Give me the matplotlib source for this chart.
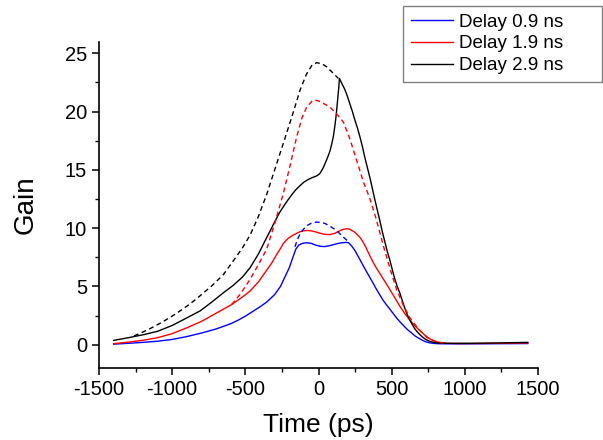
import numpy as np
import matplotlib.pyplot as plt

plt.rcParams['font.family'] = ['Liberation Sans', 'DejaVu Sans']
plt.rcParams['axes.unicode_minus'] = False

# Delay 0.9 ns (blue)
t_blue = [-1400, -1300, -1200, -1100, -1000, -900, -800, -700, -600, -550, -500, -450,
          -400, -350, -300, -260, -230, -200, -175, -155, -135, -110, -80, -50, -20, 10,
          40, 70, 100, 130, 160, 190, 205, 225, 248, 270, 296, 320, 345, 370, 394, 418,
          442, 466, 491, 515, 540, 565, 588, 612, 637, 660, 686, 710, 734, 760, 783, 810,
          850, 950, 1100, 1250, 1430]
g_blue = [0.05, 0.12, 0.2, 0.3, 0.45, 0.7, 1.0, 1.35, 1.8, 2.1, 2.45, 2.85,
          3.25, 3.7, 4.3, 5.0, 5.8, 6.6, 7.5, 8.2, 8.55, 8.7, 8.75, 8.7, 8.55, 8.45,
          8.42, 8.48, 8.58, 8.68, 8.75, 8.78, 8.75, 8.5, 8.1, 7.6, 7.0, 6.45, 5.9, 5.35, 4.8, 4.3,
          3.8, 3.4, 3.0, 2.6, 2.2, 1.85, 1.55, 1.25, 1.0, 0.75, 0.55, 0.38, 0.25, 0.16, 0.12, 0.09,
          0.08, 0.07, 0.08, 0.09, 0.1]
t_blue_d = [-161, -145, -125, -100, -75, -45, -15, 15, 45, 75, 105, 135, 165, 190, 214]
g_blue_d = [8.4, 9.0, 9.55, 9.95, 10.25, 10.45, 10.52, 10.5, 10.4, 10.2, 9.95, 9.65, 9.3, 9.0, 8.78]

# Delay 1.9 ns (red)
t_red = [-1400, -1300, -1200, -1100, -1000, -900, -800, -700, -600, -530, -468, -410,
         -354, -320, -288, -260, -240, -210, -181, -150, -126, -100, -74, -50, -20, 14,
         45, 78, 110, 141, 170, 192, 212, 228, 245, 261, 284, 305, 326, 350, 374, 397,
         420, 455, 489, 523, 557, 591, 625, 660, 694, 724, 754, 780, 808, 840, 880, 950,
         1026, 1220, 1430]
g_red = [0.09, 0.22, 0.38, 0.6, 0.95, 1.45, 2.0, 2.7, 3.4, 4.0, 4.6, 5.4,
         6.4, 7.0, 7.7, 8.25, 8.7, 9.1, 9.35, 9.55, 9.7, 9.78, 9.8, 9.77, 9.68, 9.55,
         9.47, 9.45, 9.55, 9.75, 9.9, 9.95, 9.92, 9.8, 9.68, 9.5, 9.2, 8.8, 8.3, 7.65, 7.05, 6.55,
         6.1, 5.4, 4.7, 4.0, 3.28, 2.65, 2.1, 1.6, 1.2, 0.85, 0.55, 0.38, 0.25, 0.16, 0.12, 0.1,
         0.1, 0.12, 0.15]
t_red_d = [-593, -531, -468, -414, -354, -297, -240, -190, -149, -112, -80, -44, -24,
           5, 34, 78, 131, 170, 216, 261, 306, 352, 394, 443, 489, 535, 579, 625, 686,
           739, 793, 851]
g_red_d = [3.45, 4.4, 5.6, 6.8, 8.2, 10.5, 13.0, 15.6, 17.85, 19.5, 20.4, 20.9, 21.0,
           20.9, 20.7, 20.4, 19.7, 19.1, 17.6, 15.8, 14.0, 12.5, 10.8, 8.5, 6.5, 4.7, 3.4, 2.3, 1.3,
           0.65, 0.3, 0.15]

# Delay 2.9 ns (black)
t_blk = [-1400, -1300, -1200, -1100, -1000, -900, -809, -725, -651, -582, -520, -468,
         -410, -354, -325, -297, -270, -240, -210, -181, -155, -126, -100, -74, -50, -30,
         -10, 10, 33, 50, 63, 78, 90, 102, 111, 118, 124, 132, 138, 143, 160, 180, 198,
         216, 232, 248, 266, 284, 300, 316, 334, 352, 368, 384, 402, 420, 436, 452, 470,
         489, 504, 520, 538, 557, 572, 588, 606, 625, 640, 656, 675, 694, 714, 734, 750,
         763, 790, 812, 880, 1026, 1220, 1430]
g_blk = [0.37, 0.6, 0.85, 1.15, 1.65, 2.3, 2.9, 3.7, 4.45, 5.1, 5.8, 6.6,
         7.8, 9.2, 9.9, 10.6, 11.25, 11.85, 12.4, 12.9, 13.3, 13.65, 13.95, 14.15, 14.3, 14.4,
         14.5, 14.7, 15.2, 15.7, 16.1, 16.6, 17.2, 17.9, 18.7, 19.4, 20.1, 21.2, 22.0, 22.85, 22.4, 21.9, 21.3,
         20.6, 20.0, 19.3, 18.6, 17.8, 17.0, 16.1, 15.2, 14.3, 13.4, 12.5, 11.55, 10.6, 9.7, 8.9, 8.0,
         7.2, 6.45, 5.7, 5.0, 4.4, 3.8, 3.2, 2.6, 2.1, 1.75, 1.4, 1.1, 0.85, 0.62, 0.45, 0.35,
         0.28, 0.2, 0.15, 0.12, 0.12, 0.15, 0.2]
t_blk_d = [-1261, -1163, -1066, -969, -878, -809, -725, -651, -582, -520, -468, -414,
           -354, -297, -240, -181, -126, -83, -44, -12, 24, 56, 92, 116, 136]
g_blk_d = [0.75, 1.3, 1.95, 2.7, 3.5, 4.2, 5.1, 6.0, 7.2, 8.3, 9.4, 10.9,
           12.9, 15.1, 17.3, 19.6, 21.85, 23.2, 24.0, 24.2, 24.1, 23.85, 23.4, 23.1, 22.85]

fig = plt.figure(figsize=(6.03, 4.40), dpi=100)
ax = fig.add_axes([0.1642, 0.1636, 0.728, 0.7416])

ax.plot(t_blue, g_blue, color='#0000ff', lw=1.0, label='Delay 0.9 ns')
ax.plot(t_red, g_red, color='#ff0000', lw=1.0, label='Delay 1.9 ns')
ax.plot(t_blk, g_blk, color='black', lw=1.0, label='Delay 2.9 ns')
ax.plot(t_blue_d, g_blue_d, color='#0000ff', lw=1.0, ls=(0, (3.5, 2.5)))
ax.plot(t_red_d, g_red_d, color='#ff0000', lw=1.0, ls=(0, (3.5, 2.5)))
ax.plot(t_blk_d, g_blk_d, color='black', lw=1.0, ls=(0, (3.5, 2.5)))

ax.set_xlim(-1500, 1500)
ax.set_ylim(-2, 26)
ax.set_xticks(np.arange(-1500, 1501, 500))
ax.set_xticks(np.arange(-1500, 1501, 250), minor=True)
ax.set_yticks(np.arange(0, 26, 5))
ax.set_yticks(np.arange(0, 26, 2.5), minor=True)
for s in ['top', 'right']:
    ax.spines[s].set_visible(False)
for s in ['left', 'bottom']:
    ax.spines[s].set_linewidth(1.2)
ax.tick_params(which='major', direction='out', length=5, width=1.1, labelsize=14.5)
ax.tick_params(which='minor', direction='out', length=3, width=1.0)
ax.set_xlabel('Time (ps)', fontsize=19, labelpad=10)
ax.set_ylabel('Gain', fontsize=20, labelpad=19)

# Origin-style legend box: wider than its text
fig.legend(loc='upper left', bbox_to_anchor=(403 / 603, 1 - 79 / 440, 199 / 603, 73 / 440),
           mode='expand', fontsize=13.5,
           frameon=True, fancybox=False, edgecolor='#808080', framealpha=1,
           handlelength=2.25, handletextpad=0.35, borderpad=0.4, labelspacing=0.25,
           borderaxespad=0)

fig.savefig('out.png', dpi=100)
